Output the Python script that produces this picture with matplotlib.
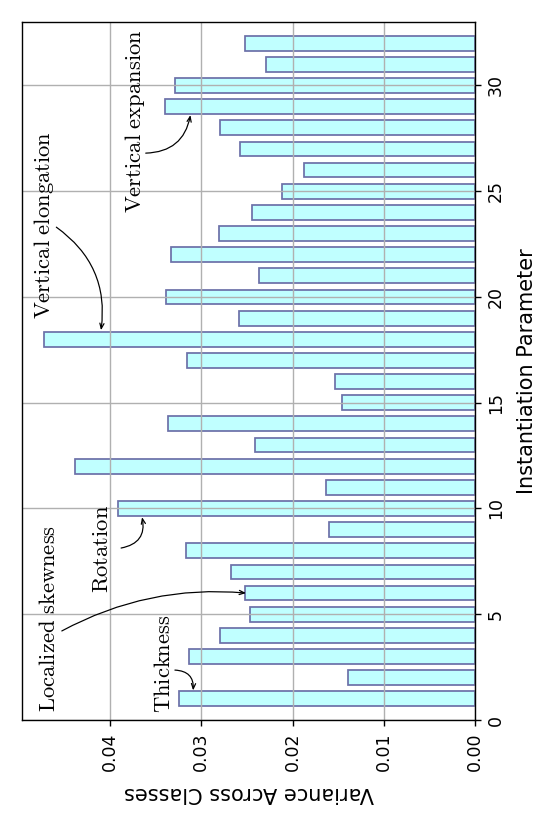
import matplotlib
matplotlib.use("Agg")
import matplotlib.pyplot as plt
import numpy as np

plt.rcParams['mathtext.fontset'] = 'cm'

# instantiation parameters and their variance across classes
params = np.arange(1, 33)
variance = [0.0324, 0.0139, 0.0314, 0.0280, 0.0247, 0.0252, 0.0268, 0.0317,
            0.0160, 0.0391, 0.0163, 0.0438, 0.0241, 0.0337, 0.0146, 0.0154,
            0.0316, 0.0473, 0.0259, 0.0339, 0.0237, 0.0333, 0.0281, 0.0245,
            0.0212, 0.0187, 0.0258, 0.0280, 0.0340, 0.0329, 0.0229, 0.0252]
yticks = [0, 5, 10, 15, 20, 25, 30]
xticks = [0.00, 0.01, 0.02, 0.03, 0.04]

# annotations: label, text centre (variance, param), arrow start, arrow tip, curvature
notes = [
    (r'$\mathrm{Thickness}$', (0.0342, 2.65), (0.0329, 2.36), (0.0309, 1.40), -0.5),
    (r'$\mathrm{Localized\ skewness}$', (0.0468, 4.82), (0.0453, 4.21), (0.0251, 6.0), -0.15),
    (r'$\mathrm{Rotation}$', (0.0409, 8.1), (0.0388, 8.13), (0.0365, 9.59), 0.5),
    (r'$\mathrm{Vertical\ elongation}$', (0.0473, 23.4), (0.0459, 23.3), (0.0410, 18.43), -0.3),
    (r'$\mathrm{Vertical\ expansion}$', (0.0373, 28.3), (0.0361, 26.8), (0.0312, 28.6), 0.4),
]

fig = plt.figure(figsize=(554/125, 825/125), dpi=125)
ax = fig.add_axes([22/554, 1 - 720/825, 453/554, 698/825])

ax.barh(params, variance, height=0.7, color='#c0ffff', edgecolor='#6b70a8', linewidth=1)
ax.grid(True, color='#b0b0b0', linewidth=0.8)
ax.invert_xaxis()
ax.set_ylim(0, 33)

ax.set_xticks(xticks)
ax.set_xticklabels(['%.2f' % v for v in xticks], rotation=90, fontsize=10)
ax.yaxis.tick_right()
ax.yaxis.set_label_position('right')
ax.set_yticks(yticks)
ax.set_yticklabels([str(v) for v in yticks], rotation=90, va='center', fontsize=10)
ax.set_xlabel('Variance Across Classes', rotation=180, fontsize=12, labelpad=7)
ax.set_ylabel('Instantiation Parameter', rotation=90, fontsize=12, labelpad=7)

for label, pos, start, tip, rad in notes:
    ax.text(pos[0], pos[1], label, rotation=90, ha='center', va='center', fontsize=13)
    ax.annotate('', xy=tip, xytext=start,
                arrowprops=dict(arrowstyle='->,head_length=0.3,head_width=0.12',
                                color='black', lw=0.7, shrinkA=0, shrinkB=0,
                                connectionstyle='arc3,rad=%s' % rad))

fig.savefig('out.png', dpi=125)
